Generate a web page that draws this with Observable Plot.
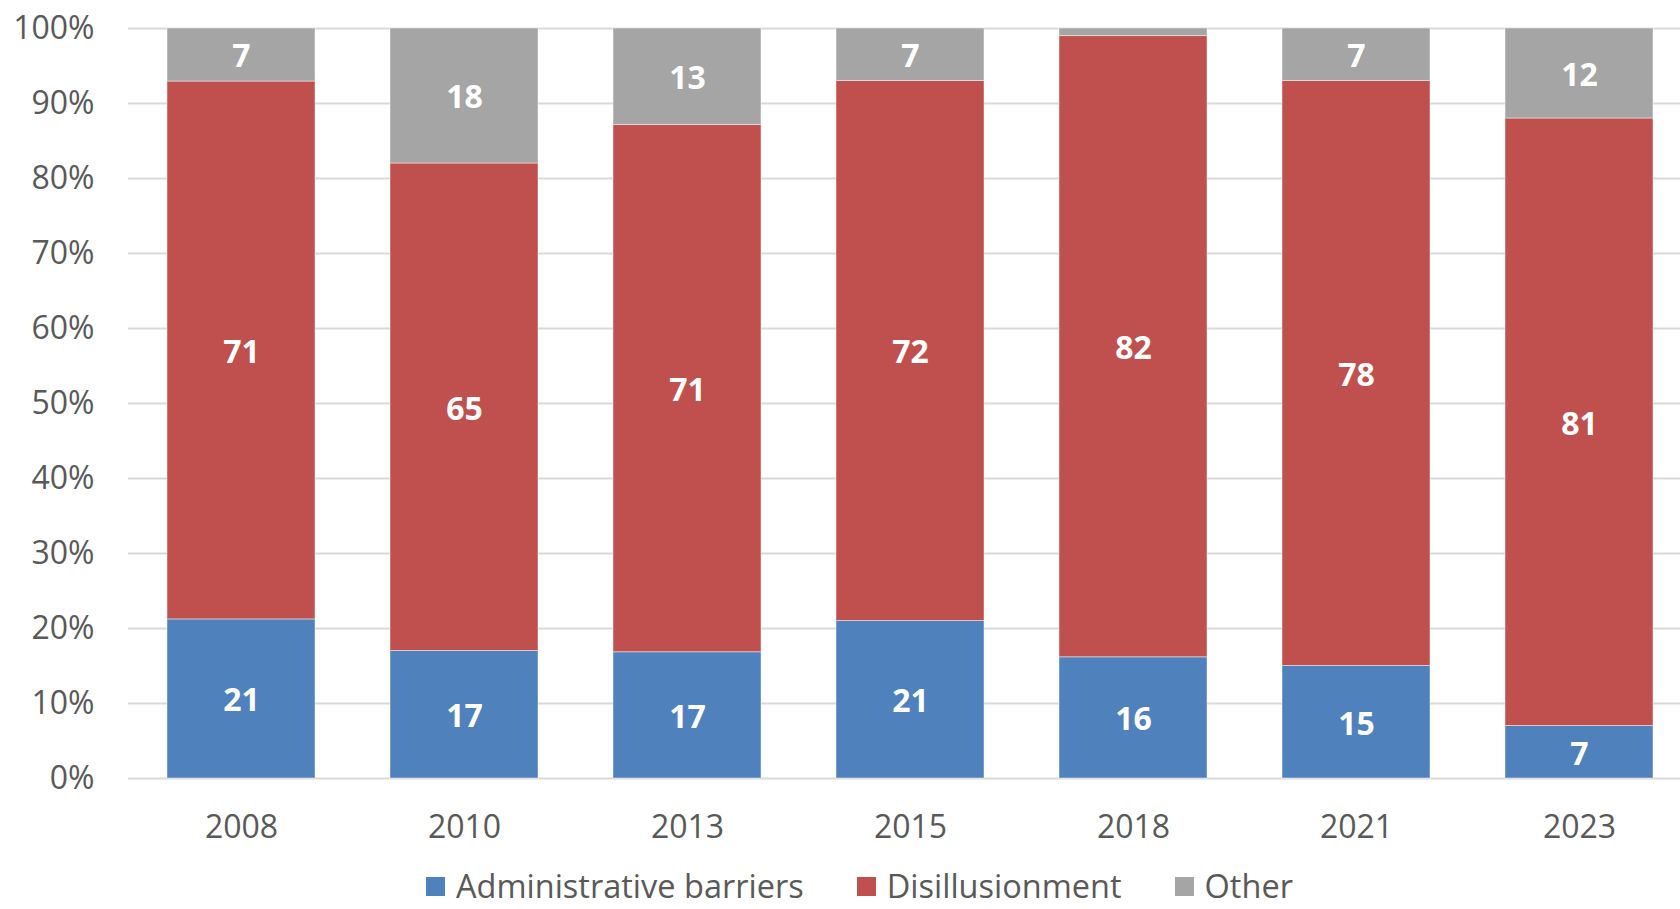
<!DOCTYPE html>
<html>
<head>
<meta charset="utf-8">
<script src="https://cdn.jsdelivr.net/npm/d3@7"></script>
<script src="https://cdn.jsdelivr.net/npm/@observablehq/plot@0.6"></script>
<style>
  html, body { margin: 0; padding: 0; background: #fff; overflow: hidden; }
  #wrap { position: relative; width: 1680px; height: 909px; font-family: "Open Sans", sans-serif; }
  #legend { position: absolute; left: 426px; top: 863px; height: 44px; display: flex; align-items: center; font-size: 32.5px; color: #595959; white-space: nowrap; }
  .item { display: flex; align-items: center; margin-right: 53px; }
  .item span { line-height: normal; }
  .sw { width: 19px; height: 19px; margin-right: 11px; margin-top: 2px; }
</style>
</head>
<body>
<div id="wrap"><div id="chart"></div><div id="legend"></div></div>
<script>
const years = ["2008", "2010", "2013", "2015", "2018", "2021", "2023"];
const seriesNames = ["Administrative barriers", "Disillusionment", "Other"];
const seriesColors = ["#4f81bd", "#c0504d", "#a5a5a5"];
const adminBarriers = [21, 17, 17, 21, 16, 15, 7];
const disillusionment = [71, 65, 71, 72, 82, 78, 81];
const other = [7, 18, 13, 7, 1, 7, 12];
const yTicks = [0, 0.1, 0.2, 0.3, 0.4, 0.5, 0.6, 0.7, 0.8, 0.9, 1];

const seriesValues = [adminBarriers, disillusionment, other];
const data = [];
seriesNames.forEach((s, si) => {
  years.forEach((y, yi) => data.push({year: y, series: s, value: seriesValues[si][yi]}));
});

const stackOpts = {x: "year", y: "value", z: "series", order: seriesNames, offset: "normalize"};

const chart = Plot.plot({
  width: 1680,
  height: 862,
  marginLeft: 128,
  marginRight: 0,
  marginTop: 28,
  marginBottom: 84,
  style: {fontFamily: "Open Sans, sans-serif", fontSize: "32px", color: "#595959", background: "white"},
  x: {domain: years, range: [128.4, 1690.8], paddingInner: 0.336, paddingOuter: 0.168, label: null},
  y: {domain: [0, 1], label: null},
  color: {domain: seriesNames, range: seriesColors},
  marks: [
    Plot.ruleY(yTicks, {stroke: "#d9d9d9", strokeWidth: 2}),
    Plot.barY(data, Plot.stackY({...stackOpts, fill: "series", stroke: "white", strokeOpacity: 0.45, strokeWidth: 1})),
    Plot.text(data, Plot.stackY({...stackOpts, text: d => d.value >= 3 ? String(d.value) : "", fill: "white", fontWeight: "bold", fontSize: 32, dy: 2})),
    Plot.axisY({ticks: yTicks, tickFormat: d3.format(".0%"), tickSize: 0, tickPadding: 34, label: null, fontSize: 32, fill: "#595959"}),
    Plot.axisX({tickSize: 0, tickPadding: 37, label: null, fontSize: 32, fill: "#595959"})
  ]
});
document.getElementById("chart").appendChild(chart);

const legend = document.getElementById("legend");
seriesNames.forEach((s, i) => {
  const item = document.createElement("div");
  item.className = "item";
  const sw = document.createElement("div");
  sw.className = "sw";
  sw.style.background = seriesColors[i];
  const t = document.createElement("span");
  t.textContent = s;
  item.appendChild(sw);
  item.appendChild(t);
  legend.appendChild(item);
});
</script>
</body>
</html>
